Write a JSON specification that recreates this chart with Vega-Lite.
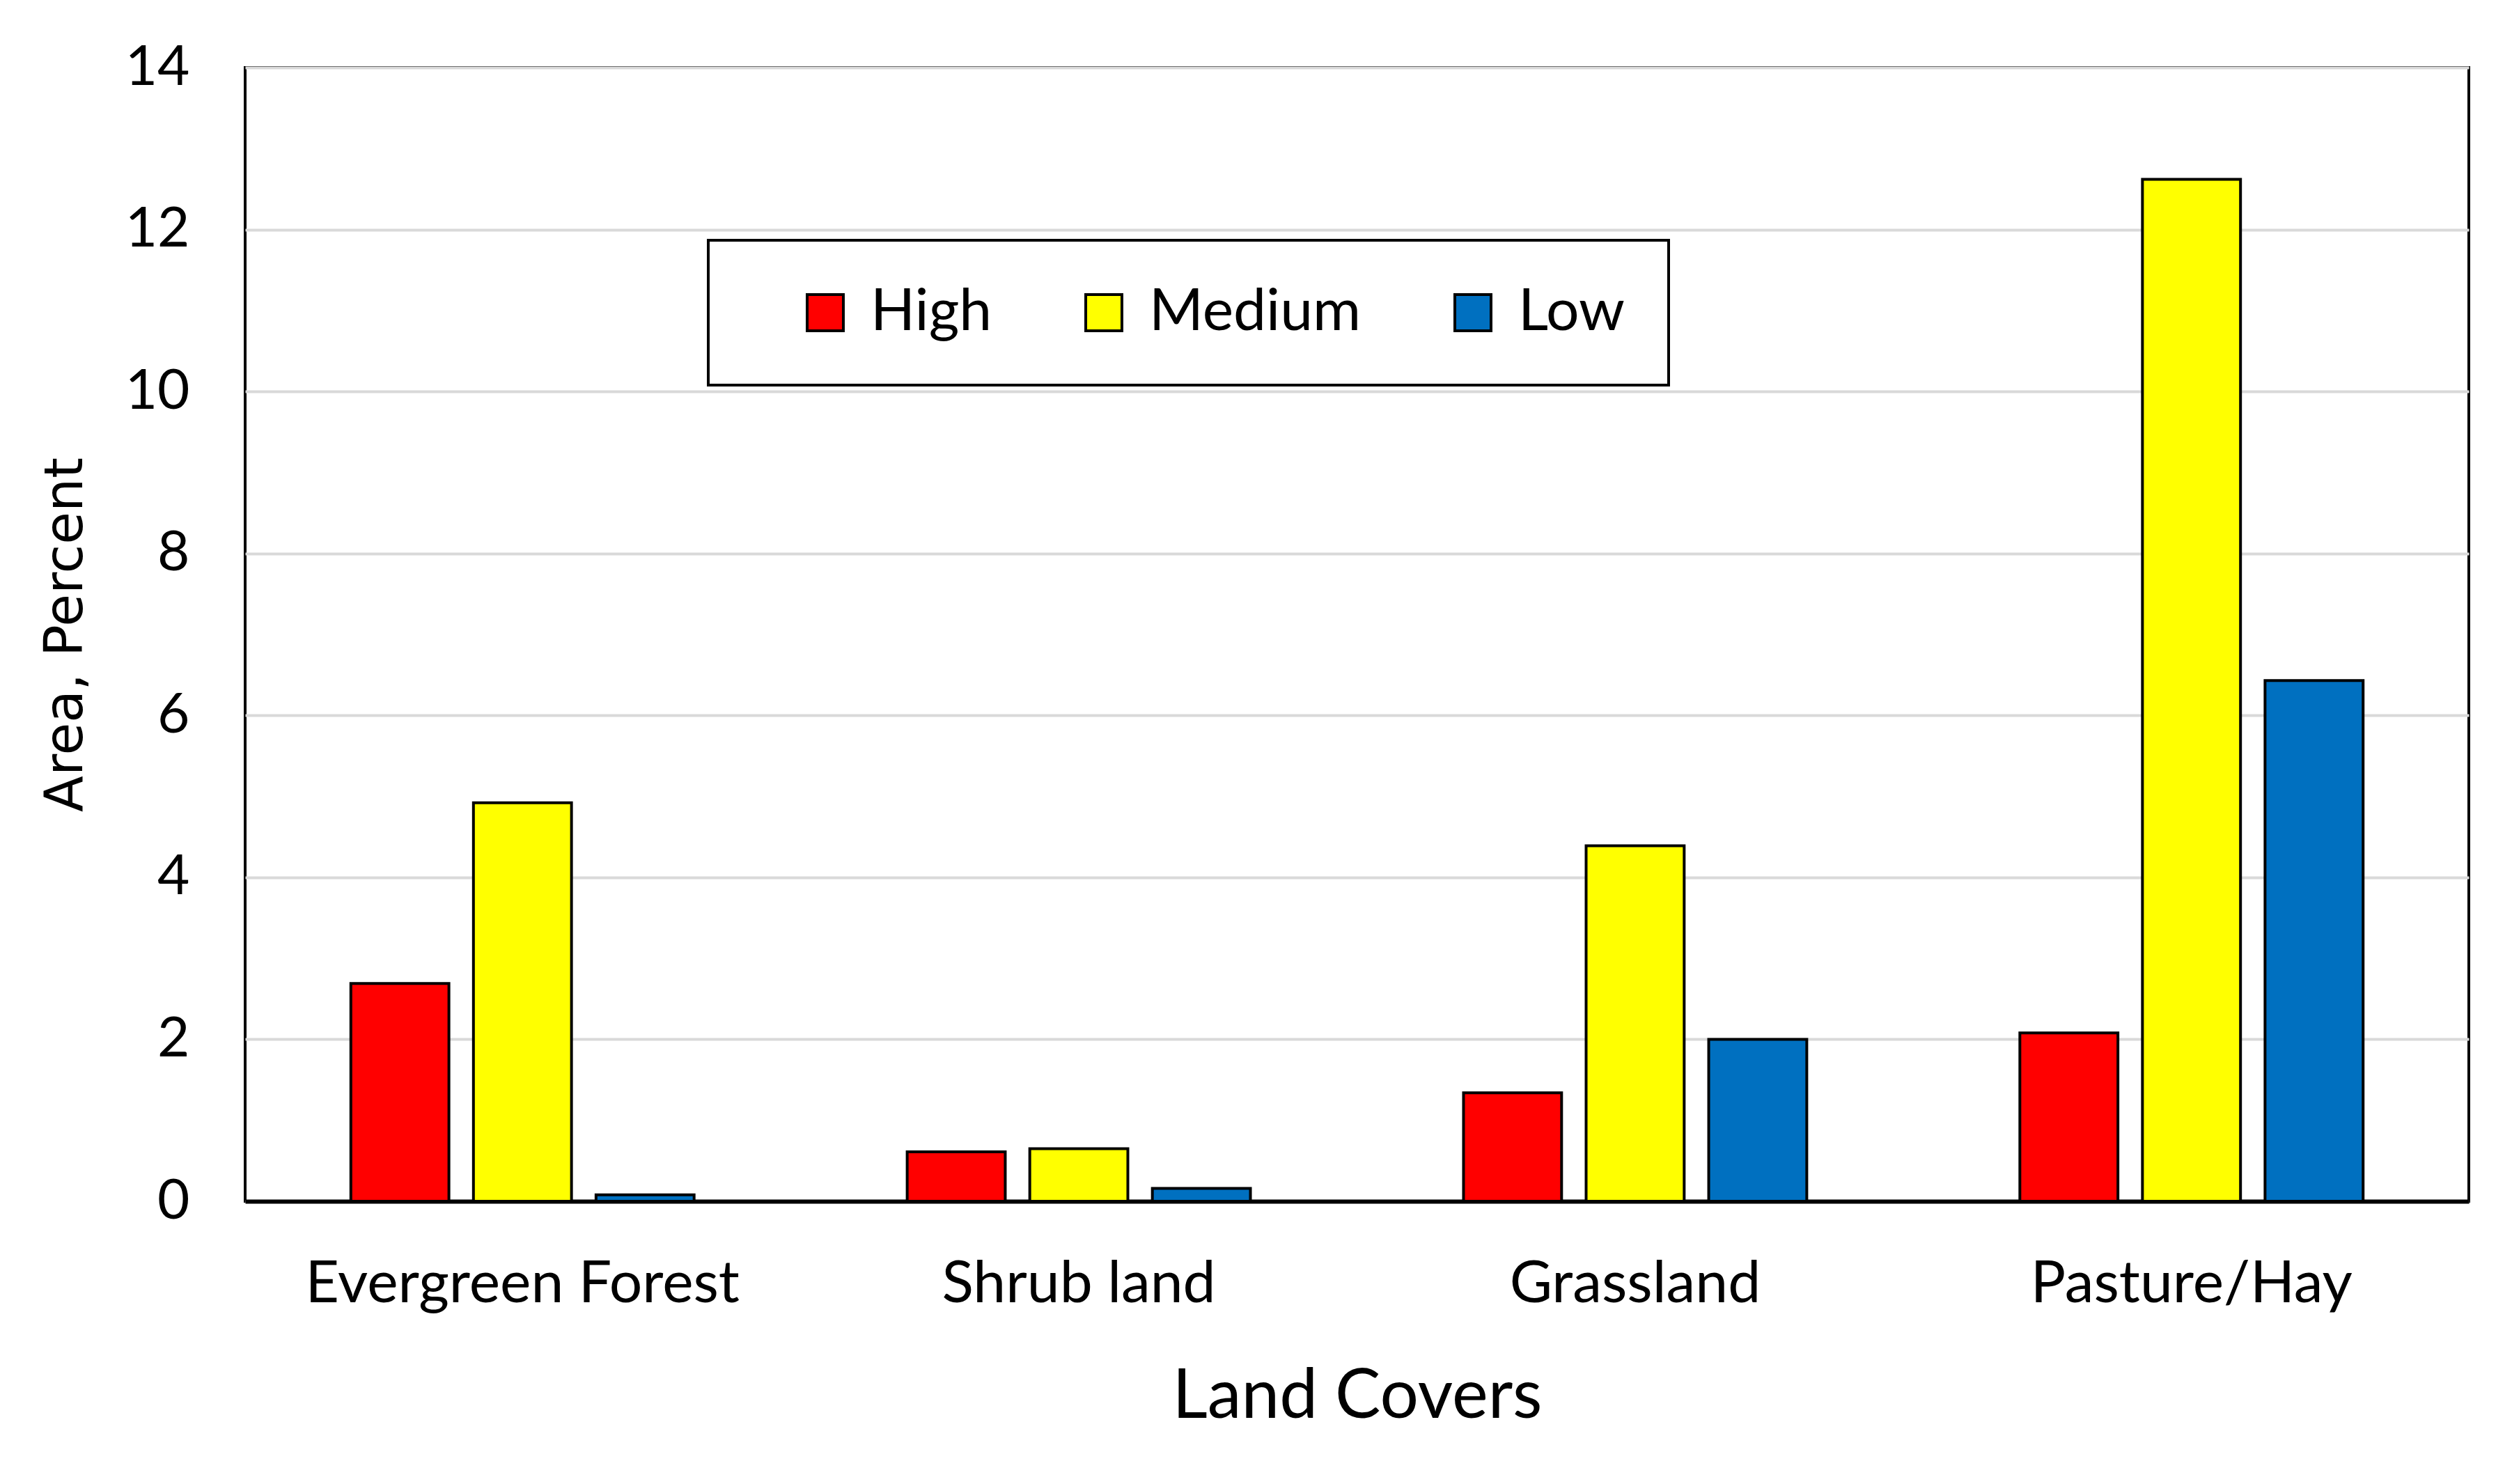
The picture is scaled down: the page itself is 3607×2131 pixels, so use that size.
{
  "$schema": "https://vega.github.io/schema/vega-lite/v6.json",
  "autosize": {"type": "none"},
  "width": 3193,
  "height": 1628,
  "padding": {"left": 352, "top": 97, "right": 62, "bottom": 406},
  "background": "white",
  "config": {
    "view": {"stroke": "black", "strokeWidth": 4},
    "font": "Lato"
  },
  "data": {
    "values": [
      {"cover": "Evergreen Forest", "level": "High", "value": 2.69},
      {"cover": "Evergreen Forest", "level": "Medium", "value": 4.92},
      {"cover": "Evergreen Forest", "level": "Low", "value": 0.08},
      {"cover": "Shrub land", "level": "High", "value": 0.61},
      {"cover": "Shrub land", "level": "Medium", "value": 0.65},
      {"cover": "Shrub land", "level": "Low", "value": 0.16},
      {"cover": "Grassland", "level": "High", "value": 1.34},
      {"cover": "Grassland", "level": "Medium", "value": 4.39},
      {"cover": "Grassland", "level": "Low", "value": 2.0},
      {"cover": "Pasture/Hay", "level": "High", "value": 2.08},
      {"cover": "Pasture/Hay", "level": "Medium", "value": 12.62},
      {"cover": "Pasture/Hay", "level": "Low", "value": 6.43}
    ]
  },
  "mark": {"type": "bar", "stroke": "black", "strokeWidth": 4},
  "encoding": {
    "x": {
      "field": "cover",
      "type": "nominal",
      "sort": ["Evergreen Forest", "Shrub land", "Grassland", "Pasture/Hay"],
      "scale": {"paddingInner": 0.383, "paddingOuter": 0.19},
      "axis": {
        "title": "Land Covers",
        "titleFont": "Lato",
        "titleFontSize": 98,
        "titleFontWeight": "normal",
        "titleColor": "black",
        "titlePadding": 72,
        "labelFont": "Lato",
        "labelFontSize": 84,
        "labelColor": "black",
        "labelAngle": 0,
        "labelPadding": 78,
        "labelLimit": 2000,
        "ticks": false,
        "domainColor": "black",
        "domainWidth": 6
      }
    },
    "xOffset": {
      "field": "level",
      "type": "nominal",
      "sort": ["High", "Medium", "Low"],
      "scale": {"paddingInner": 0.2, "paddingOuter": 0}
    },
    "y": {
      "field": "value",
      "type": "quantitative",
      "scale": {"domain": [0, 14], "nice": false},
      "axis": {
        "title": "Area, Percent",
        "titleFont": "DejaVu Sans",
        "titleFontSize": 76,
        "titleFontWeight": "normal",
        "titleColor": "black",
        "titlePadding": 46,
        "values": [0, 2, 4, 6, 8, 10, 12, 14],
        "labelFont": "Lato",
        "labelFontSize": 80,
        "labelColor": "black",
        "labelPadding": 80,
        "ticks": false,
        "domain": false,
        "gridColor": "#d9d9d9",
        "gridWidth": 4
      }
    },
    "color": {
      "field": "level",
      "type": "nominal",
      "sort": ["High", "Medium", "Low"],
      "scale": {"domain": ["High", "Medium", "Low"], "range": ["#ff0000", "#ffff00", "#0070c0"]},
      "legend": {
        "orient": "none",
        "legendX": 665,
        "legendY": 248,
        "direction": "horizontal",
        "title": " ",
        "titleOrient": "left",
        "titleFontSize": 1,
        "titlePadding": 64,
        "strokeColor": "black",
        "padding": 62,
        "symbolType": "square",
        "symbolSize": 2700,
        "symbolStrokeColor": "black",
        "symbolStrokeWidth": 4,
        "symbolOpacity": 1,
        "labelFont": "Lato",
        "labelFontSize": 84,
        "labelColor": "black",
        "labelOffset": 23,
        "columnPadding": 118,
        "labelLimit": 1000,
        "encode": {"legend": {"update": {"strokeWidth": {"value": 4}}}}
      }
    }
  }
}
